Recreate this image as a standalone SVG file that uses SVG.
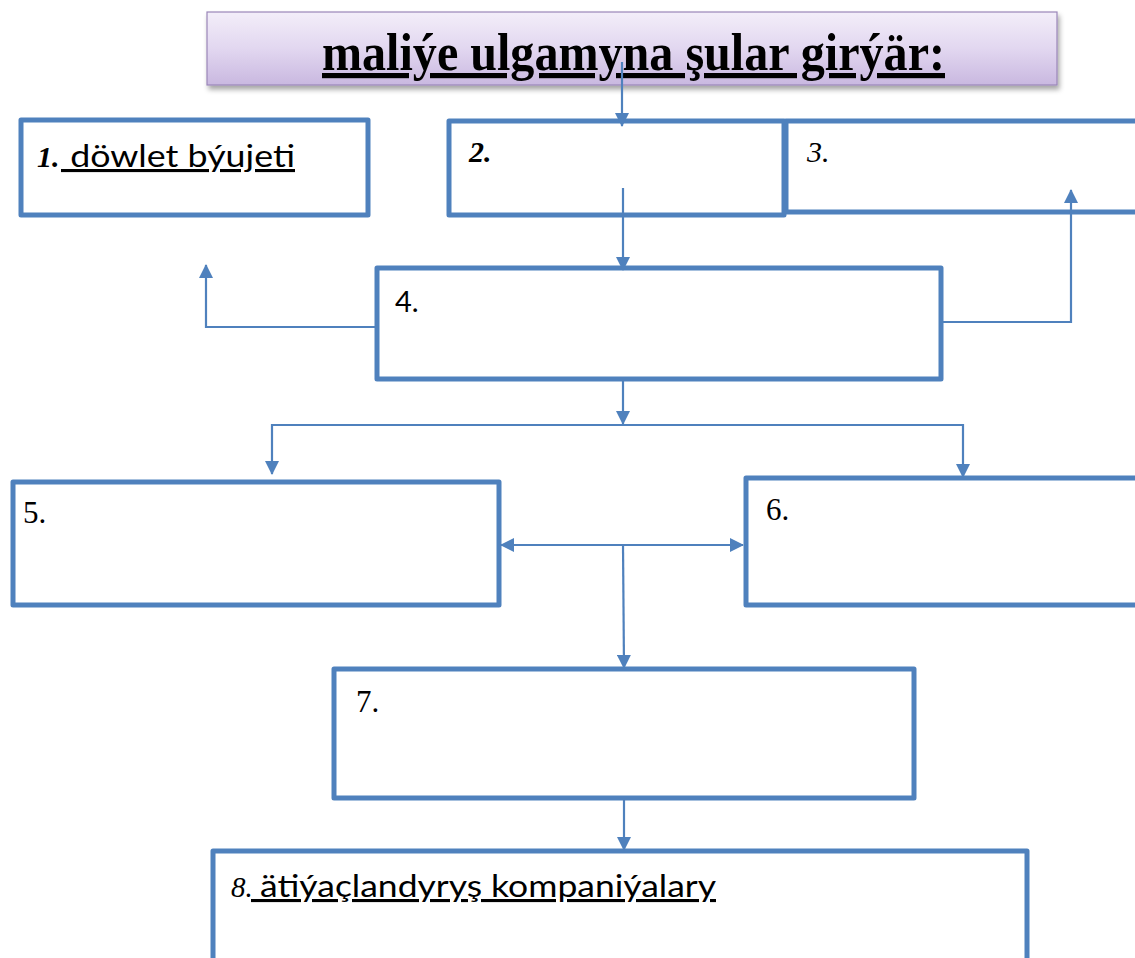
<svg xmlns="http://www.w3.org/2000/svg" width="1135" height="958" viewBox="0 0 1135 958">
<defs>
<linearGradient id="tg" x1="0" y1="0" x2="0" y2="1">
<stop offset="0" stop-color="#F3EEF9"/>
<stop offset="0.5" stop-color="#E2D7F0"/>
<stop offset="1" stop-color="#C9B8E0"/>
</linearGradient>
<filter id="sh" x="-5%" y="-20%" width="110%" height="150%">
<feDropShadow dx="2" dy="4" stdDeviation="2.5" flood-color="#000" flood-opacity="0.35"/>
</filter>
<marker id="ah" viewBox="0 0 14 14" refX="13" refY="7" markerWidth="14" markerHeight="14" markerUnits="userSpaceOnUse" orient="auto-start-reverse">
<path d="M0,0 L14,7 L0,14 Z" fill="#4F81BD"/>
</marker>
<style>
.box{fill:#fff;stroke:#4F81BD;stroke-width:5;stroke-linejoin:round}
.con{fill:none;stroke:#4F81BD;stroke-width:2.2}
.serif{font-family:"Liberation Serif","Times New Roman",serif;fill:#000}
.sans{font-family:Lato,"Liberation Sans",Arial,sans-serif;fill:#000}
.ul{text-decoration:underline}
</style>
</defs>
<rect width="1135" height="958" fill="#fff"/>

<g id="title">
<rect x="207" y="12" width="850" height="73" fill="url(#tg)" stroke="#9A86B8" stroke-width="1.2" filter="url(#sh)"/>
<text class="serif ul" x="322" y="70" font-size="52" font-weight="bold" textLength="623" lengthAdjust="spacingAndGlyphs">maliýe ulgamyna şular girýär:</text>
</g>

<g id="node1">
<rect class="box" x="21" y="120" width="347" height="95"/>
<text class="serif" x="37" y="167" font-size="30" font-weight="bold" font-style="italic">1.</text>
<text class="sans ul" x="61" y="167" font-size="31" xml:space="preserve" textLength="234" lengthAdjust="spacingAndGlyphs"> döwlet býujeti</text>
</g>

<g id="node3">
<rect class="box" x="786" y="121" width="370" height="91"/>
<text class="serif" x="807" y="162" font-size="30" font-style="italic">3.</text>
</g>

<g id="node2">
<rect class="box" x="449" y="121" width="335" height="94"/>
<text class="serif" x="469" y="162" font-size="30" font-weight="bold" font-style="italic">2.</text>
</g>

<g id="node4">
<rect class="box" x="377" y="268" width="564" height="111"/>
<text class="sans" x="395" y="312" font-size="29">4.</text>
</g>

<g id="node5">
<rect class="box" x="13" y="482" width="486" height="123"/>
<text class="serif" x="23" y="523" font-size="31">5.</text>
</g>

<g id="node6">
<rect class="box" x="746" y="478" width="410" height="127"/>
<text class="serif" x="766" y="520" font-size="31">6.</text>
</g>

<g id="node7">
<rect class="box" x="334" y="669" width="580" height="129"/>
<text class="serif" x="356" y="712" font-size="31">7.</text>
</g>

<g id="node8">
<rect class="box" x="213" y="851" width="814" height="130"/>
<text class="serif" x="231" y="897" font-size="29" font-style="italic">8.</text>
<text class="sans ul" x="251" y="897" font-size="31" xml:space="preserve" textLength="465" lengthAdjust="spacingAndGlyphs"> ätiýaçlandyryş kompaniýalary</text>
</g>

<g id="connectors">
<path class="con" d="M622,62 L622,126" marker-end="url(#ah)"/>
<path class="con" d="M623,188 L623,270" marker-end="url(#ah)"/>
<path class="con" d="M377,327 L206,327 L206,265" marker-end="url(#ah)"/>
<path class="con" d="M941,322 L1071,322 L1071,190" marker-end="url(#ah)"/>
<path class="con" d="M623,380 L623,424" marker-end="url(#ah)"/>
<path class="con" d="M272,474 L272,425 L963,425 L963,477" marker-end="url(#ah)" marker-start="url(#ah)"/>
<path class="con" d="M501,545 L743,545" marker-end="url(#ah)" marker-start="url(#ah)"/>
<path class="con" d="M623,545 L624,668" marker-end="url(#ah)"/>
<path class="con" d="M624,799 L624,850" marker-end="url(#ah)"/>
</g>
</svg>
